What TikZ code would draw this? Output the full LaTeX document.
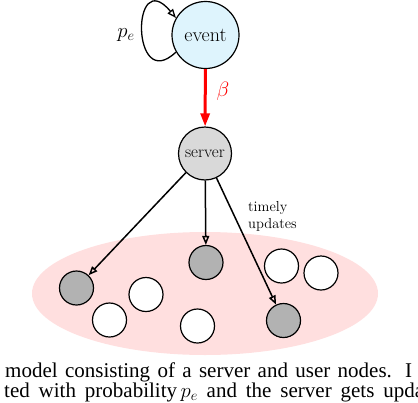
\documentclass[tikz,border=0pt]{standalone}
\usepackage{fontspec}
\newfontfamily\capfont{Liberation Serif}
\usetikzlibrary{arrows.meta}
\begin{document}
\begin{tikzpicture}[x=1pt,y=-1pt,
  circ/.style={circle,draw,line width=1.2pt,inner sep=0pt},
  user/.style={circ,minimum size=34pt,fill=white},
  hit/.style={user,fill=gray!60},
  upd/.style={-{Triangle[open,length=9pt,width=7pt]},line width=1.5pt},
  lbl/.style={inner sep=0pt},
]
\useasboundingbox (0,0) rectangle (418,402);
\clip (0,0) rectangle (418,402);
\fill[pink!50] (205,293.5) ellipse [x radius=173, y radius=61.5];
\node[circ,minimum size=67pt,fill=cyan!13,font=\fontsize{20}{24}\selectfont] (event) at (205.5,35) {event};
\node[circ,minimum size=53pt,fill=gray!30,font=\fontsize{17}{20}\selectfont] (server) at (205,153.5) {server};
\node[hit] (g1) at (76.5,288) {};
\node[hit] (g2) at (206,262.5) {};
\node[hit] (g3) at (283.5,320.5) {};
\node[user] (w1) at (281.5,266) {};
\node[user] (w2) at (321,273) {};
\node[user] (w3) at (146,294.5) {};
\node[user] (w4) at (109.5,320) {};
\node[user] (w5) at (197.5,326) {};
\draw[red,line width=3pt,-{Triangle[length=13pt,width=9pt]}] (event) -- (server);
\node[lbl,red,font=\fontsize{20}{24}\selectfont] (beta) at (223,91) {$\beta$};
\draw[upd,line width=1.3pt] (event.210) .. controls +(-45,43) and +(-45,-54) .. (event.150);
\node[lbl,font=\fontsize{20}{24}\selectfont] (pe) at (126,35) {$p_e$};
\node[lbl,anchor=north west,align=left,font=\fontsize{14.5}{17}\selectfont] (tu) at (248,201) {timely\\updates};
\draw[upd] (server.south west) -- (g1);
\draw[upd] (server) -- (g2);
\draw[upd] (server) -- (g3);
\node[lbl,anchor=base west,font=\capfont\fontsize{21}{24}\selectfont] (cap1) at (5,377) {\makebox[407pt][s]{model consisting of a server and user nodes. I}};
\node[lbl,anchor=base west,font=\capfont\fontsize{21}{24}\selectfont] (cap2) at (4,397.5) {\makebox[420pt][s]{ted with probability$\,p_e$ and the server gets upda}};
\end{tikzpicture}
\end{document}
